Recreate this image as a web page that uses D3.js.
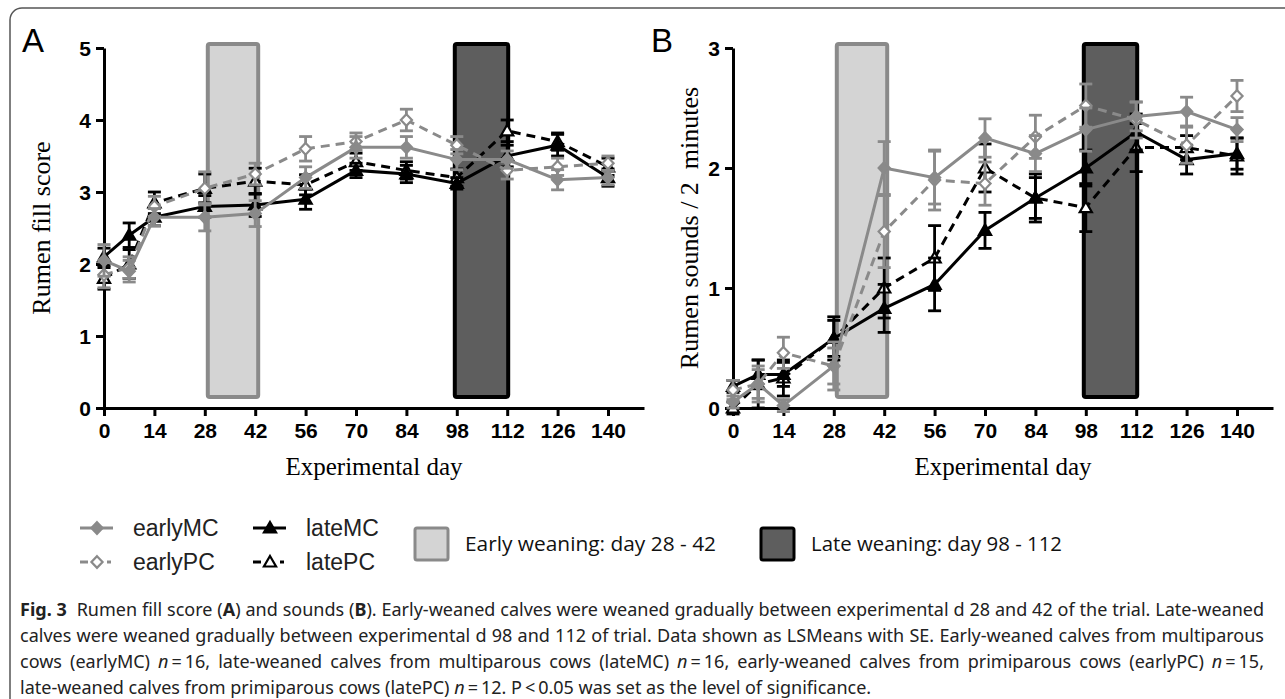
<!DOCTYPE html>
<html>
<head>
<meta charset="utf-8">
<script src="https://cdn.jsdelivr.net/npm/d3@7"></script>
<style>
  body { margin: 0; background: #fff; }
  svg { display: block; }
  .tick text { font-family: "Liberation Sans", Arial, sans-serif; font-weight: bold; font-size: 21px; fill: #000; }
</style>
</head>
<body>
<div id="fig"></div>
<script>
// ------------------------------------------------------------------
//  rumen fill score (A) and rumen sounds (B)
// ------------------------------------------------------------------
const days = [0, 7, 14, 28, 42, 56, 70, 84, 98, 112, 126, 140]
const dayTicks = [0, 14, 28, 42, 56, 70, 84, 98, 112, 126, 140]
const groups = ["earlyMC", "earlyPC", "lateMC", "latePC"]

// panel A - rumen fill score
const fillEarlyMC   = [2.05, 1.90, 2.65, 2.65, 2.70, 3.20, 3.62, 3.62, 3.45, 3.45, 3.17, 3.20]
const fillEarlyMCse = [0.22, 0.15, 0.12, 0.19, 0.18, 0.15, 0.15, 0.15, 0.14, 0.12, 0.14, 0.10]
const fillEarlyPC   = [1.85, 1.95, 2.80, 3.05, 3.25, 3.60, 3.70, 4.00, 3.65, 3.30, 3.35, 3.40]
const fillEarlyPCse = [0.18, 0.15, 0.14, 0.23, 0.15, 0.17, 0.12, 0.15, 0.12, 0.12, 0.12, 0.10]
const fillLateMC    = [2.10, 2.40, 2.65, 2.80, 2.82, 2.90, 3.30, 3.25, 3.12, 3.50, 3.65, 3.20]
const fillLateMCse  = [0.12, 0.17, 0.12, 0.15, 0.16, 0.14, 0.10, 0.12, 0.08, 0.15, 0.15, 0.12]
const fillLatePC    = [1.80, 2.00, 2.85, 3.05, 3.15, 3.10, 3.42, 3.30, 3.20, 3.85, 3.70, 3.35]
const fillLatePCse  = [0.15, 0.20, 0.15, 0.20, 0.18, 0.14, 0.12, 0.12, 0.12, 0.15, 0.12, 0.12]

// panel B - rumen sounds / 2 minutes
const soundEarlyMC   = [0.05, 0.20, 0.02, 0.35, 2.00, 1.92, 2.25, 2.12, 2.32, 2.43, 2.47, 2.32]
const soundEarlyMCse = [0.05, 0.12, 0.05, 0.20, 0.22, 0.22, 0.16, 0.15, 0.18, 0.12, 0.12, 0.10]
const soundEarlyPC   = [0.15, 0.20, 0.46, 0.35, 1.47, 1.90, 1.87, 2.26, 2.52, 2.40, 2.19, 2.60]
const soundEarlyPCse = [0.08, 0.15, 0.13, 0.15, 0.30, 0.25, 0.18, 0.18, 0.18, 0.15, 0.15, 0.13]
const soundLateMC    = [0.18, 0.28, 0.28, 0.58, 0.83, 1.03, 1.48, 1.75, 2.00, 2.30, 2.07, 2.12]
const soundLateMCse  = [0.05, 0.12, 0.10, 0.18, 0.20, 0.22, 0.15, 0.17, 0.15, 0.15, 0.12, 0.13]
const soundLatePC    = [0.00, 0.20, 0.25, 0.58, 1.00, 1.25, 2.00, 1.75, 1.67, 2.17, 2.17, 2.10]
const soundLatePCse  = [0.05, 0.20, 0.15, 0.15, 0.25, 0.27, 0.20, 0.20, 0.20, 0.20, 0.10, 0.15]

// weaning periods
const earlyWeaning = [28, 42]
const lateWeaning = [98, 112]

const W = 1285, H = 699
const grey = "#8a8a8a"

const svg = d3.select("#fig").append("svg")
    .attr("width", W)
    .attr("height", H)

// frame round figure + caption
svg.append("rect")
    .attr("x", 10).attr("y", 8)
    .attr("width", W + 40).attr("height", H + 6)
    .attr("rx", 12)
    .attr("fill", "none")
    .attr("stroke", "#555")
    .attr("stroke-width", 1.5)

// wide diamond, like the one in the plot
const diamond = {
    draw: function (ctx, size) {
        const r = Math.sqrt(size / 2)
        ctx.moveTo(0, -r * 1.05)
        ctx.lineTo(r, 0)
        ctx.lineTo(0, r * 1.05)
        ctx.lineTo(-r, 0)
        ctx.closePath()
    }
}

const styles = {
    earlyMC: { color: grey, dash: null, shape: diamond, fill: grey },
    earlyPC: { color: grey, dash: "9,6", shape: diamond, fill: "#fff" },
    lateMC:  { color: "#000", dash: null, shape: d3.symbolTriangle, fill: "#000" },
    latePC:  { color: "#000", dash: "9,6", shape: d3.symbolTriangle, fill: "#fff" }
}

function marker(st) {
    return d3.symbol().type(st.shape).size(st.shape === diamond ? 62 : 64)
}

function drawPanel(opt) {
    const x = d3.scaleLinear().domain([0, 150]).range([opt.left, opt.left + 540])
    const y = d3.scaleLinear().domain([0, opt.ymax]).range([408, 48])

    // weaning boxes
    const boxes = [
        { r: earlyWeaning, fill: "#d4d4d4", stroke: grey, dx0: 3, dx1: 3 },
        { r: lateWeaning, fill: "#5e5e5e", stroke: "#000", dx0: -2, dx1: 1 }
    ]
    svg.selectAll(null).data(boxes).enter().append("rect")
        .attr("x", d => x(d.r[0]) + d.dx0)
        .attr("y", y(opt.ymax) - 4)
        .attr("width", d => x(d.r[1]) + d.dx1 - x(d.r[0]) - d.dx0)
        .attr("height", y(0) - 11 - y(opt.ymax) + 4)
        .attr("rx", 2)
        .attr("fill", d => d.fill)
        .attr("stroke", d => d.stroke)
        .attr("stroke-width", 4)

    // axes
    const gx = svg.append("g")
        .attr("transform", "translate(0," + y(0) + ")")
        .call(d3.axisBottom(x).tickValues(dayTicks).tickSize(8).tickSizeOuter(0).tickPadding(7))
    const gy = svg.append("g")
        .attr("transform", "translate(" + x(0) + ",0)")
        .call(d3.axisLeft(y).ticks(opt.ymax).tickSize(8).tickSizeOuter(0).tickPadding(5))
    svg.selectAll(".domain, .tick line").attr("stroke", "#000").attr("stroke-width", 3)
    gx.selectAll("text").attr("font-family", null).attr("font-size", null)
    gy.selectAll("text").attr("font-family", null).attr("font-size", null).attr("dy", "0.36em")

    // series: black ones first, grey on top
    const order = ["latePC", "lateMC", "earlyPC", "earlyMC"]
    order.forEach(function (g) {
        const st = styles[g]
        const vals = opt.series[g]
        const se = opt.errors[g]
        const pts = days.map((d, i) => ({ d: d, v: vals[i], e: se[i] }))

        const line = d3.line().x(p => x(p.d)).y(p => y(p.v))
        svg.append("path")
            .datum(pts)
            .attr("d", line)
            .attr("fill", "none")
            .attr("stroke", st.color)
            .attr("stroke-width", 3)
            .attr("stroke-dasharray", st.dash)

        const eb = svg.append("g").attr("stroke", st.color).attr("stroke-width", 2.8)
        eb.selectAll(null).data(pts).enter().append("line")
            .attr("x1", p => x(p.d)).attr("x2", p => x(p.d))
            .attr("y1", p => y(p.v - p.e)).attr("y2", p => y(p.v + p.e))
        eb.selectAll(null).data(pts).enter().append("line")
            .attr("x1", p => x(p.d) - 6.5).attr("x2", p => x(p.d) + 6.5)
            .attr("y1", p => y(p.v + p.e)).attr("y2", p => y(p.v + p.e))
        eb.selectAll(null).data(pts).enter().append("line")
            .attr("x1", p => x(p.d) - 6.5).attr("x2", p => x(p.d) + 6.5)
            .attr("y1", p => y(p.v - p.e)).attr("y2", p => y(p.v - p.e))

        svg.selectAll(null).data(pts).enter().append("path")
            .attr("d", marker(st))
            .attr("transform", p => "translate(" + x(p.d) + "," + (y(p.v) + (st.shape === diamond ? 0 : 1)) + ")")
            .attr("fill", st.fill)
            .attr("stroke", st.color)
            .attr("stroke-width", 2.2)
    })

    // titles
    svg.append("text")
        .attr("x", opt.left - 82).attr("y", 52)
        .attr("font-family", "Liberation Sans, Arial, sans-serif")
        .attr("font-size", 33)
        .text(opt.letter)
    svg.append("text")
        .attr("transform", "translate(" + opt.ytitleX + ",228) rotate(-90)")
        .attr("text-anchor", "middle")
        .attr("font-family", "Liberation Serif, Times New Roman, serif")
        .attr("font-size", 26)
        .attr("xml:space", "preserve")
        .text(opt.ytitle)
    svg.append("text")
        .attr("x", x(0) + 270).attr("y", 475)
        .attr("text-anchor", "middle")
        .attr("font-family", "Liberation Serif, Times New Roman, serif")
        .attr("font-size", 25)
        .text("Experimental day")
}

drawPanel({
    letter: "A", left: 104, ymax: 5, ytitleX: 50,
    ytitle: "Rumen fill score",
    series: { earlyMC: fillEarlyMC, earlyPC: fillEarlyPC, lateMC: fillLateMC, latePC: fillLatePC },
    errors: { earlyMC: fillEarlyMCse, earlyPC: fillEarlyPCse, lateMC: fillLateMCse, latePC: fillLatePCse }
})
drawPanel({
    letter: "B", left: 733, ymax: 3, ytitleX: 698,
    ytitle: "Rumen sounds / 2  minutes",
    series: { earlyMC: soundEarlyMC, earlyPC: soundEarlyPC, lateMC: soundLateMC, latePC: soundLatePC },
    errors: { earlyMC: soundEarlyMCse, earlyPC: soundEarlyPCse, lateMC: soundLateMCse, latePC: soundLatePCse }
})

// ------------------------------------------------------------------
// legend
const legPos = {
    earlyMC: [80, 528], earlyPC: [80, 562],
    lateMC: [253, 528], latePC: [253, 562]
}
groups.forEach(function (g) {
    const st = styles[g]
    const p = legPos[g]
    if (st.dash) {
        // "-<>." style of the dashed entries
        svg.append("line")
            .attr("x1", p[0]).attr("x2", p[0] + 8)
            .attr("y1", p[1]).attr("y2", p[1])
            .attr("stroke", st.color).attr("stroke-width", 3)
        svg.append("line")
            .attr("x1", p[0] + 27).attr("x2", p[0] + 31)
            .attr("y1", p[1]).attr("y2", p[1])
            .attr("stroke", st.color).attr("stroke-width", 3)
    } else {
        svg.append("line")
            .attr("x1", p[0]).attr("x2", p[0] + 33)
            .attr("y1", p[1]).attr("y2", p[1])
            .attr("stroke", st.color).attr("stroke-width", 3)
    }
    svg.append("path")
        .attr("d", marker(st))
        .attr("transform", "translate(" + (p[0] + 17) + "," + (p[1] + (st.shape === diamond ? 0 : 1)) + ")")
        .attr("fill", st.fill).attr("stroke", st.color).attr("stroke-width", 2.2)
    svg.append("text")
        .attr("x", p[0] + 53).attr("y", p[1] + 8)
        .attr("font-family", "Liberation Sans, Arial, sans-serif")
        .attr("font-size", 23)
        .attr("fill", "#222")
        .text(g)
})

const weanLegend = [
    { label: "Early weaning: day 28 - 42", x: 415, fill: "#d4d4d4", stroke: grey },
    { label: "Late weaning: day 98 - 112", x: 761, fill: "#5e5e5e", stroke: "#000" }
]
weanLegend.forEach(function (d) {
    svg.append("rect")
        .attr("x", d.x).attr("y", 528)
        .attr("width", 33).attr("height", 32)
        .attr("rx", 2)
        .attr("fill", d.fill).attr("stroke", d.stroke).attr("stroke-width", 3)
    svg.append("text")
        .attr("x", d.x + 50).attr("y", 551)
        .attr("font-family", "Open Sans, Noto Sans, sans-serif")
        .attr("font-size", 20)
        .attr("textLength", 251)
        .attr("lengthAdjust", "spacingAndGlyphs")
        .attr("fill", "#111")
        .text(d.label)
})

// ------------------------------------------------------------------
// caption (justified, last line left as it is)
const capRight = 1264
const caption = [
    { y: 616, last: false, parts: [["Fig. 3", "b"], ["  Rumen fill score (", ""], ["A", "b"], [") and sounds (", ""], ["B", "b"],
        ["). Early-weaned calves were weaned gradually between experimental d 28 and 42 of the trial. Late-weaned", ""]] },
    { y: 642, last: false, parts: [["calves were weaned gradually between experimental d 98 and 112 of trial. Data shown as LSMeans with SE. Early-weaned calves from multiparous", ""]] },
    { y: 668, last: false, parts: [["cows (earlyMC) ", ""], ["n", "i"], ["\u2009=\u200916, late-weaned calves from multiparous cows (lateMC) ", ""], ["n", "i"],
        ["\u2009=\u200916, early-weaned calves from primiparous cows (earlyPC) ", ""], ["n", "i"], ["\u2009=\u200915,", ""]] },
    { y: 694, last: true, parts: [["late-weaned calves from primiparous cows (latePC) ", ""], ["n", "i"], ["\u2009=\u200912. P\u2009<\u20090.05 was set as the level of significance.", ""]] }
]
const capSize = 18
caption.forEach(function (c) {
    const t = svg.append("text")
        .attr("x", 20).attr("y", c.y)
        .attr("font-family", "Noto Sans, Open Sans, sans-serif")
        .attr("font-size", capSize)
        .attr("fill", "#222")
        .attr("xml:space", "preserve")
    c.parts.forEach(function (p) {
        t.append("tspan")
            .attr("font-weight", p[1] === "b" ? "bold" : null)
            .attr("font-style", p[1] === "i" ? "italic" : null)
            .text(p[0])
    })
    if (!c.last) {
        const w = t.node().getComputedTextLength()
        const target = capRight - 20
        const spaces = c.parts.map(p => p[0]).join("").split(" ").length - 1
        if (w < target) {
            t.attr("word-spacing", (target - w) / spaces)
        } else {
            t.attr("textLength", target).attr("lengthAdjust", "spacingAndGlyphs")
        }
    }
})
</script>
</body>
</html>
